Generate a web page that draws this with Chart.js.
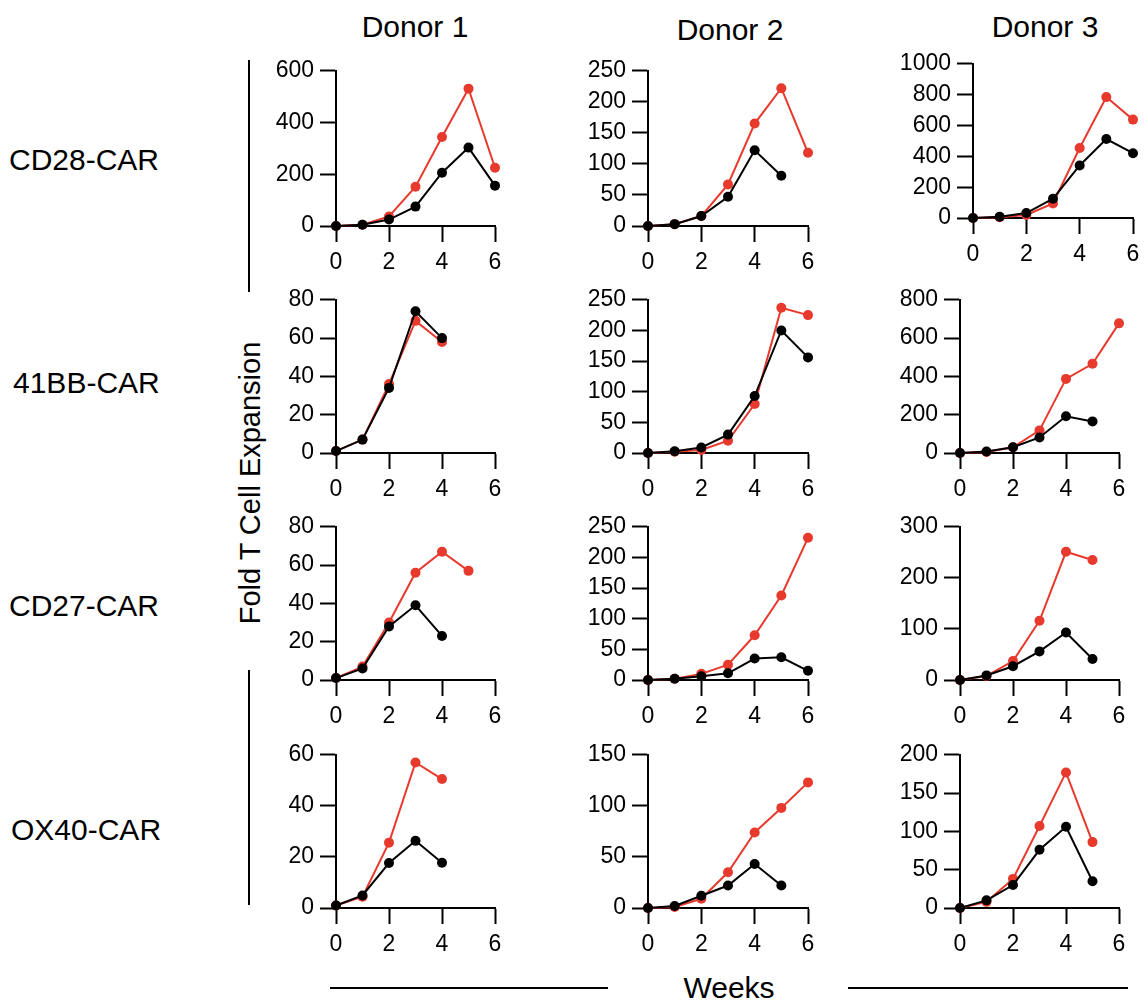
<!DOCTYPE html>
<html>
<head>
<meta charset="utf-8">
<script src="https://cdn.jsdelivr.net/npm/chart.js@4/dist/chart.umd.min.js"></script>
<style>
  body { margin: 0; background: #fff; width: 1144px; height: 1003px; position: relative; overflow: hidden; font-family: 'Liberation Sans', Arial, sans-serif; color: #000; }
  canvas { position: absolute; }
  .lbl { position: absolute; font-size: 30px; white-space: nowrap; line-height: 1; }
  .rule { position: absolute; background: #000; }
</style>
</head>
<body>

<div class="lbl" style="left:415px;top:27px;transform:translate(-50%,-50%)">Donor 1</div>
<div class="lbl" style="left:730px;top:30px;transform:translate(-50%,-50%)">Donor 2</div>
<div class="lbl" style="left:1045px;top:27px;transform:translate(-50%,-50%)">Donor 3</div>

<div class="lbl" style="left:9px;top:160px;transform:translateY(-50%)">CD28-CAR</div>
<div class="lbl" style="left:13px;top:383px;transform:translateY(-50%)">41BB-CAR</div>
<div class="lbl" style="left:9px;top:606px;transform:translateY(-50%)">CD27-CAR</div>
<div class="lbl" style="left:11px;top:830px;transform:translateY(-50%)">OX40-CAR</div>

<div class="lbl" style="left:250px;top:483px;font-size:29px;transform:translate(-50%,-50%) rotate(-90deg)">Fold T Cell Expansion</div>
<div class="lbl" style="left:729px;top:988px;transform:translate(-50%,-50%)">Weeks</div>

<div class="rule" style="left:248px;top:60px;width:2px;height:232px"></div>
<div class="rule" style="left:248px;top:670px;width:2px;height:235px"></div>
<div class="rule" style="left:330px;top:987px;width:278px;height:2px"></div>
<div class="rule" style="left:848px;top:987px;width:280px;height:2px"></div>

<script>
const weeks = [0, 1, 2, 3, 4, 5, 6]

// one list per donor (Donor 1, Donor 2, Donor 3)
const cd28Red   = [[0, 5, 37, 152, 344, 531, 225], [0, 3, 16, 67, 165, 222, 118], [0, 5, 20, 94, 454, 784, 638]]
const cd28Black = [[0, 5, 25, 75, 206, 303, 156], [0, 3, 16, 47, 122, 81, null], [0, 8, 32, 125, 341, 512, 420]]
const bb41Red   = [[1, 7, 36, 69, 58, null, null], [0, 2, 5, 20, 80, 237, 225], [0, 5, 30, 118, 387, 466, 677]]
const bb41Black = [[1, 7, 34, 74, 60, null, null], [0, 3, 9, 30, 93, 200, 156], [0, 8, 30, 81, 192, 165, null]]
const cd27Red   = [[1, 7, 30, 56, 67, 57, null], [0, 2, 10, 25, 73, 138, 232], [0, 8, 37, 116, 251, 235, null]]
const cd27Black = [[1, 6, 28, 39, 23, null, null], [0, 2, 6, 11, 35, 37, 15], [0, 9, 27, 56, 93, 41, null]]
const ox40Red   = [[1, 4.4, 25.6, 57, 50.5, null, null], [0, 1, 9, 35, 74, 98, 123], [0, 8, 38, 107, 177, 86, null]]
const ox40Black = [[1, 4.9, 17.6, 26.3, 17.7, null, null], [0, 2, 12, 22, 43, 22, null], [0, 10, 30, 76, 106, 35, null]]

const yMax  = [[600, 250, 1000], [80, 250, 800], [80, 250, 300], [60, 150, 200]]
const yStep = [[200, 50, 200], [20, 50, 200], [20, 50, 100], [20, 50, 50]]

const redSeries = [cd28Red, bb41Red, cd27Red, ox40Red]
const blackSeries = [cd28Black, bb41Black, cd27Black, ox40Black]

// plot-area placement (left, right of x axis; top, bottom of y axis)
const colX = [[336, 495], [648, 808], [960, 1119]]
const rowY = [[66, 226], [295, 453], [522, 680], [750, 908]]

const RED = '#e8392d'
const tickFont = { family: "'Liberation Sans', Arial, sans-serif", size: 23 }
const YW = 80, XH = 52, PT = 15, PR = 18

function axisStyle() {
    return {
        grid: { drawOnChartArea: false, drawTicks: true, tickLength: 16, tickWidth: 2, tickColor: '#000' },
        border: { display: true, color: '#000', width: 2 }
    }
}

function makePanel(r, c) {
    let [left, right] = colX[c]
    let [top, bottom] = rowY[r]
    if (r === 0 && c === 2) { left = 973; right = 1133; top = 59; bottom = 218 }

    const cv = document.createElement('canvas')
    const w = right - left + YW + PR
    const h = bottom - top + PT + XH
    cv.width = w
    cv.height = h
    cv.style.left = (left - YW) + 'px'
    cv.style.top = (top - PT) + 'px'
    document.body.appendChild(cv)

    const ds = (data, color) => ({
        data: data,
        borderColor: color,
        backgroundColor: color,
        pointBackgroundColor: color,
        pointBorderColor: color,
        borderWidth: 2,
        pointRadius: 5,
        pointBorderWidth: 0,
        tension: 0,
        clip: false
    })

    new Chart(cv, {
        type: 'line',
        data: {
            labels: weeks,
            datasets: [ds(blackSeries[r][c], '#000'), ds(redSeries[r][c], RED)]
        },
        options: {
            responsive: false,
            animation: false,
            devicePixelRatio: 1,
            layout: { padding: { top: PT, right: PR, left: 0, bottom: 0 } },
            plugins: { legend: { display: false }, tooltip: { enabled: false } },
            scales: {
                x: {
                    type: 'linear', min: 0, max: 6,
                    ticks: { stepSize: 2, color: '#000', font: tickFont, padding: 7, autoSkip: false, maxRotation: 0 },
                    ...axisStyle(),
                    afterFit(s) { s.height = XH }
                },
                y: {
                    min: 0, max: yMax[r][c],
                    ticks: { stepSize: yStep[r][c], color: '#000', font: tickFont, padding: 6, callback: v => String(v) },
                    ...axisStyle(),
                    afterFit(s) { s.width = YW }
                }
            }
        }
    })
}

for (let r = 0; r < 4; r++) {
    for (let c = 0; c < 3; c++) {
        makePanel(r, c)
    }
}
</script>
</body>
</html>
